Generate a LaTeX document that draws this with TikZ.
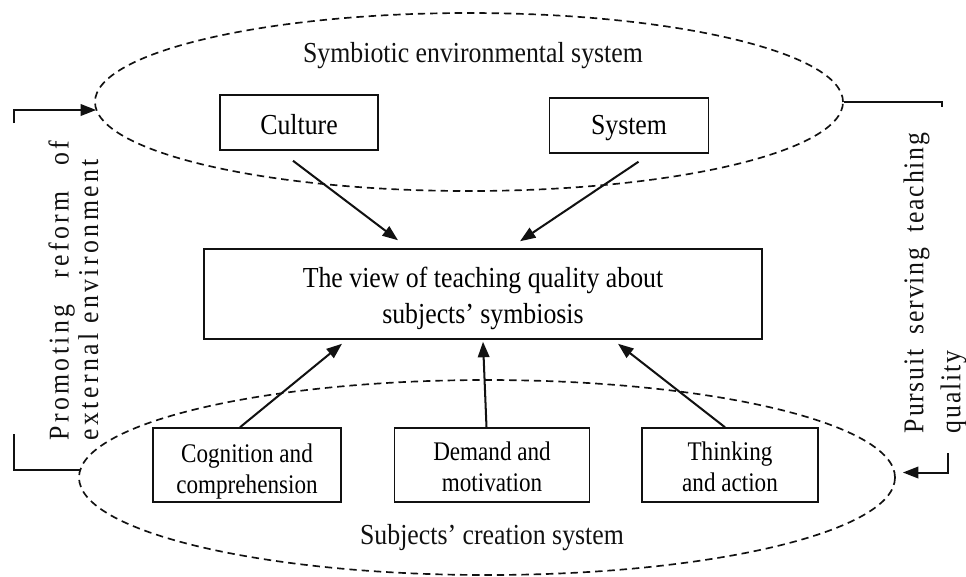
\documentclass[tikz,border=0pt]{standalone}
\usepackage{fontspec}
\setmainfont{Liberation Serif}[FakeStretch=0.89]
\newfontfamily\narrowserif{Liberation Serif}[FakeStretch=0.86]
\newfontfamily\leftsidefont{Liberation Serif}[FakeStretch=0.9,LetterSpace=12]
\newfontfamily\rightsidefont{Liberation Serif}[FakeStretch=0.9,LetterSpace=6]
\usepackage{tikz}
\usetikzlibrary{arrows.meta,positioning,shapes.geometric}
\definecolor{ink}{HTML}{111111}
\newcommand{\lowerby}[1]{\rule{0pt}{#1}}
\tikzset{
  box/.style={draw=ink,line width=0.85pt,fill=white,align=center,inner sep=0pt,font=\fontsize{16.5}{20.5}\selectfont},
  sbox/.style={box,minimum height=1.48cm,font=\narrowserif\fontsize{15.3}{17.5}\selectfont},
  ring/.style={ellipse,draw=ink,line width=0.95pt,dash pattern=on 4.2pt off 2.8pt,inner sep=0pt},
  arr/.style={-{Triangle[length=3.1mm,width=2.3mm]},line width=1.15pt,color=ink},
  brk/.style={line width=1.15pt,color=ink},
  lbl/.style={font=\fontsize{16.5}{20}\selectfont,color=ink},
  side/.style={rotate=90,inner sep=0pt,color=ink}}
\begin{document}
\begin{tikzpicture}[x=0.2mm,y=-0.2mm]
\path[use as bounding box] (0,0) rectangle (966,576);
\node[ring,minimum width=14.96cm,minimum height=3.56cm] (envsys) at (469,102) {};
\node[ring,minimum width=16.32cm,minimum height=3.9cm] (crsys) at (487,477.5) {};
\node[lbl] (envname) at (473,56) {Symbiotic environmental system};
\node[lbl] (crname) at (492,538) {Subjects’ creation system};
\node[box,minimum width=3.16cm,minimum height=1.1cm] (culture) at (299,122.5) {\lowerby{14pt}Culture};
\node[box,minimum width=3.18cm,minimum height=1.1cm,right=3.4cm of culture,yshift=-0.06cm] (system) {\lowerby{14pt}System};
\node[box,minimum width=11.16cm,minimum height=1.8cm] (view) at (483,294) {\lowerby{17pt}The view of teaching quality about\\subjects’ symbiosis};
\node[sbox,minimum width=3.76cm] (cogn) at (247,465) {\lowerby{18pt}Cognition and\\comprehension};
\node[sbox,minimum width=3.9cm,right=1.04cm of cogn] (demand) {\lowerby{13pt}Demand and\\motivation};
\node[sbox,minimum width=3.52cm,right=1.02cm of demand] (think) {\lowerby{13pt}Thinking\\and action};
\draw[arr] ([shift={(-6,10)}]culture.south) -- ([shift={(-85,-8)}]view.north);
\draw[arr] ([shift={(9.5,8)}]system.south) -- ([shift={(37,-7)}]view.north);
\draw[arr] ([xshift=-0.14cm]cogn.north) -- ([shift={(-141,4)}]view.south);
\draw[arr] ([xshift=-0.11cm]demand.north) -- ([shift={(0,2)}]view.south);
\draw[arr] ([xshift=-0.1cm]think.north) -- ([shift={(135,4)}]view.south);
\coordinate (ltop) at (14,123);
\coordinate (lbot) at (14,434);
\coordinate (rtop) at (942,107);
\coordinate (rbot) at (948,453);
\draw[arr] (ltop) |- ([shift={(2,8)}]envsys.west);
\draw[brk] (lbot) |- ([shift={(3,-8)}]crsys.west);
\draw[brk] (envsys.east) -| (rtop);
\draw[arr] (rbot) |- ([shift={(7,-5)}]crsys.east);
\node[side,font=\leftsidefont\fontsize{16.3}{20}\selectfont,anchor=north west] (reform) at (48,441) {\makebox[6cm][s]{Promoting reform of}};
\node[side,font=\leftsidefont\fontsize{16.3}{20}\selectfont,anchor=north west] (extenv) at (78,441) {external environment};
\node[side,align=left,font=\rightsidefont\fontsize{16.3}{21}\selectfont] (pursuit) at (935,283) {\makebox[6cm][s]{Pursuit serving teaching}\\quality};
\end{tikzpicture}
\end{document}
